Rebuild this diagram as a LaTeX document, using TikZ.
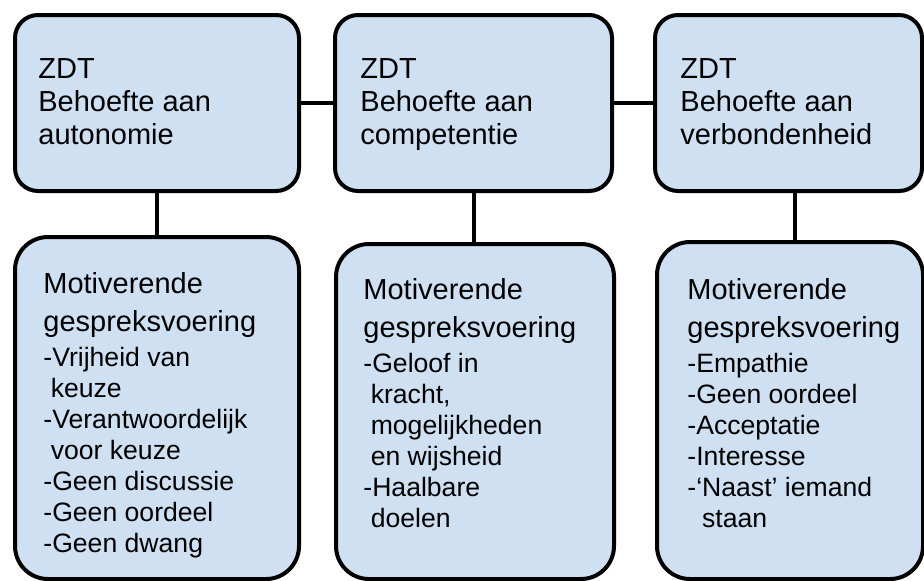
\documentclass[tikz,border=0pt]{standalone}
\usepackage{fontspec}
\setmainfont{Liberation Sans}
\definecolor{boxblue}{RGB}{207,224,242}

\begin{document}
\begin{tikzpicture}[x=0.5pt, y=-0.5pt,
  topbox/.style={draw, line width=2pt, fill=boxblue, rounded corners=11.5pt,
    anchor=north west, inner sep=0pt, minimum height=88pt},
  bottombox/.style={draw, line width=2pt, fill=boxblue, rounded corners=16.5pt,
    anchor=north west, inner sep=0pt},
  link/.style={line width=2pt},
  toptext/.style={anchor=base west, inner sep=0pt, align=left,
    font=\fontsize{14.5}{16.5}\selectfont},
  headtext/.style={anchor=base west, inner sep=0pt, align=left,
    font=\fontsize{14.5}{19}\selectfont},
  listtext/.style={anchor=base west, inner sep=0pt, align=left,
    font=\fontsize{13.3}{15.5}\selectfont}]
  \useasboundingbox (0,0) rectangle (924,580);

  % bovenste rij: ZDT
  \node[topbox, minimum width=142pt] (auto) at (13,13) {};
  \node[topbox, minimum width=138.5pt] (comp) at (333,13) {};
  \node[topbox, minimum width=133.5pt] (verb) at (653,13) {};

  % onderste rij: motiverende gespreksvoering
  \node[bottombox, minimum width=142pt, minimum height=171pt] (mauto) at (13,235) {};
  \node[bottombox, minimum width=139pt, minimum height=167.5pt] (mcomp) at (334,242) {};
  \node[bottombox, minimum width=133pt, minimum height=168.5pt] (mverb) at (655,240) {};

  \draw[link] (auto) -- (comp);
  \draw[link] (comp) -- (verb);
  \draw[link] (auto.south) -- (auto.south |- mauto.north);
  \draw[link] (comp.south) -- (comp.south |- mcomp.north);
  \draw[link] ([xshift=3pt]verb.south) -- ([xshift=3pt]verb.south |- mverb.north);

  % teksten (base = laatste regel)
  \node[toptext] (tauto) at (38,144) {ZDT\\Behoefte aan\\autonomie};
  \node[toptext] (tcomp) at (360,144) {ZDT\\Behoefte aan\\competentie};
  \node[toptext] (tverb) at (680,144) {ZDT\\Behoefte aan\\verbondenheid};

  \node[headtext] (hauto) at (43,331) {Motiverende\\gespreksvoering};
  \node[headtext] (hcomp) at (363,337) {Motiverende\\gespreksvoering};
  \node[headtext] (hverb) at (687,337) {Motiverende\\gespreksvoering};

  \node[listtext] (lauto) at (43,552) {-Vrijheid van\\\ keuze\\-Verantwoordelijk\\\ voor keuze\\-Geen discussie\\-Geen oordeel\\-Geen dwang};
  \node[listtext] (lcomp) at (363,527) {-Geloof in\\\ kracht,\\\ mogelijkheden\\\ en wijsheid\\-Haalbare\\\ doelen};
  \node[listtext] (lverb) at (687,527) {-Empathie\\-Geen oordeel\\-Acceptatie\\-Interesse\\-`Naast' iemand\\\ \ staan};
\end{tikzpicture}
\end{document}
